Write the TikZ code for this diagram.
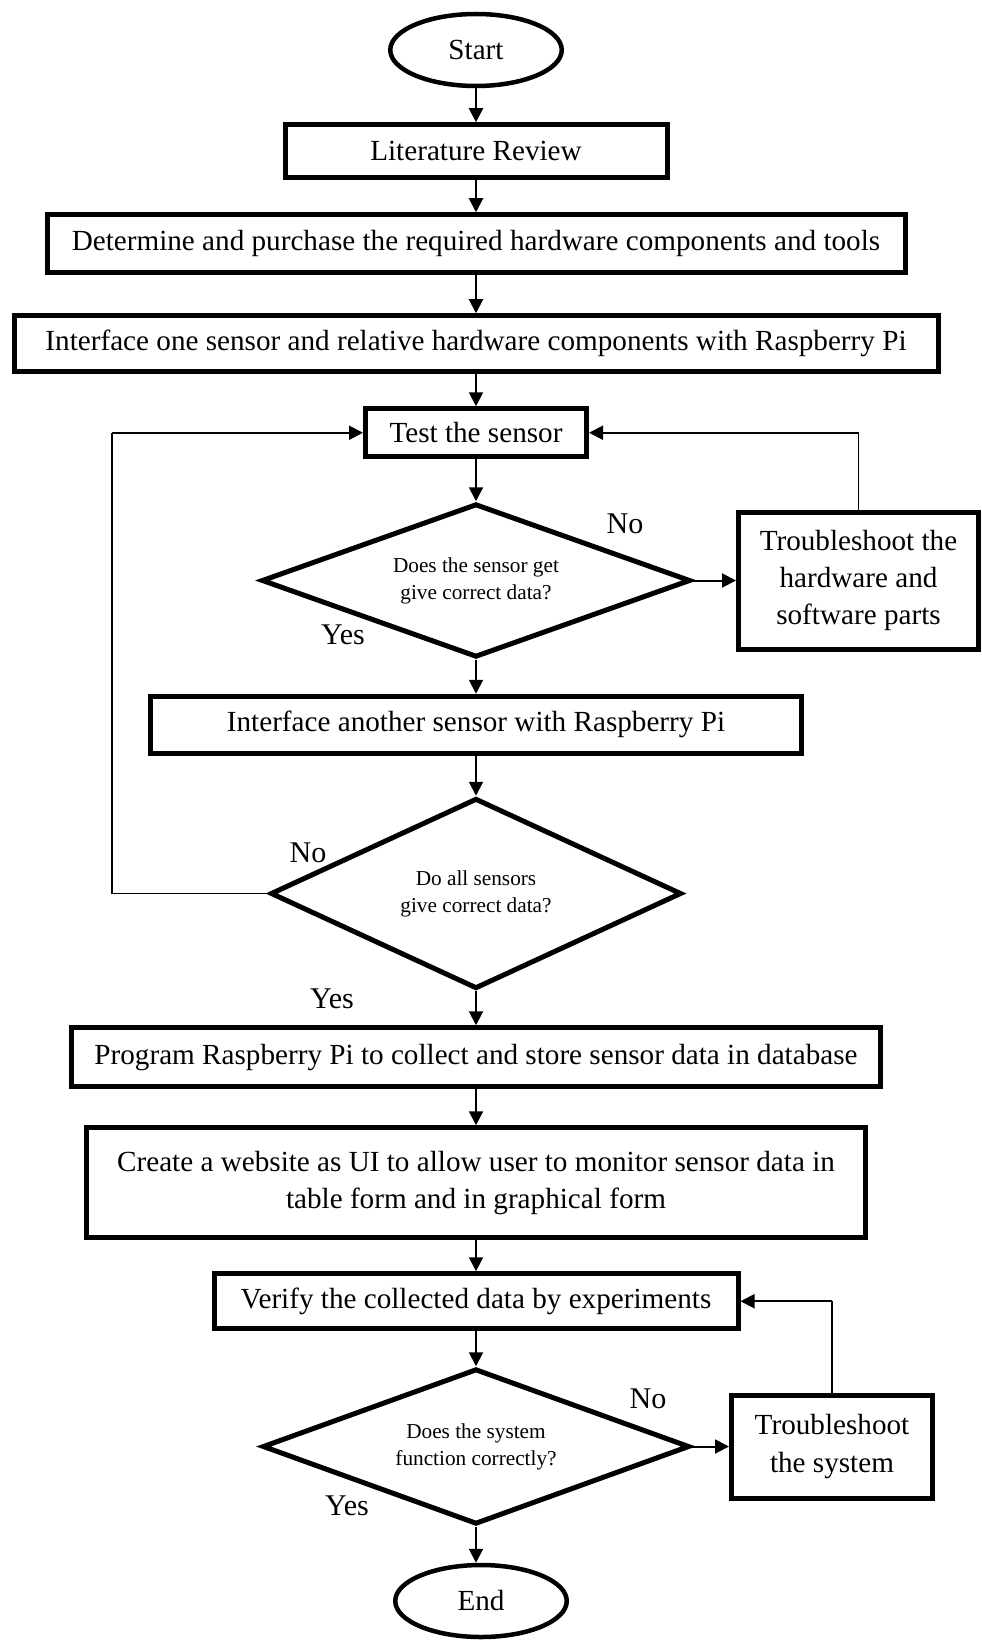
\documentclass[tikz,border=0pt]{standalone}
\usepackage{fontspec}
\setmainfont{Liberation Serif}
\usetikzlibrary{positioning,shapes.geometric,arrows.meta}

\tikzset{
  process/.style={draw, line width=0.1cm, inner sep=0pt, align=center,
    font=\fontsize{16.6}{21.3}\selectfont},
  decision/.style={draw, diamond, line width=0.1cm, inner sep=0pt, align=center,
    font=\fontsize{12.1}{15.4}\selectfont},
  terminal/.style={draw, ellipse, line width=0.09cm, inner sep=0pt,
    minimum width=3.43cm, minimum height=1.44cm, font=\fontsize{16.6}{20}\selectfont},
  flow/.style={-{Triangle[length=0.28cm,width=0.28cm]}, line width=0.04cm},
  feedback/.style={line width=0.7pt},
  lbl/.style={font=\fontsize{17.1}{20}\selectfont, inner sep=0pt},
}

\begin{document}
\begin{tikzpicture}

    \useasboundingbox (0,0) rectangle (19.64,-32.8);

    % Define nodes
    \node[terminal] (start) at (9.52,-1.0) {Start};
    \node[process, below=0.68cm of start, minimum width=7.64cm, minimum height=1.06cm]  (lit) {Literature Review};
    \node[process, below=0.64cm of lit, minimum width=17.16cm, minimum height=1.16cm]   (buy) {Determine and purchase the required hardware components and tools};
    \node[process, below=0.76cm of buy, minimum width=18.48cm, minimum height=1.12cm]   (one) {Interface one sensor and relative hardware components with Raspberry Pi};
    \node[process, below=0.64cm of one, minimum width=4.42cm, minimum height=0.96cm]    (test) {Test the sensor};
    \node[decision, below=0.84cm of test, aspect=2.75, minimum width=8.58cm, minimum height=3.07cm] (chk1) {Does the sensor get\\give correct data?};
    \node[process, right=0.86cm of chk1, minimum width=4.8cm, minimum height=2.74cm]   (fix1) {Troubleshoot the\\hardware and\\software parts};
    \node[process, below=0.68cm of chk1, minimum width=13.02cm, minimum height=1.14cm] (two) {Interface another sensor with Raspberry Pi};
    \node[decision, below=0.8cm of two, aspect=2.15, minimum width=8.22cm, minimum height=3.81cm]   (chk2) {Do all sensors\\give correct data?};
    \node[process, below=0.68cm of chk2, minimum width=16.18cm, minimum height=1.18cm] (prog) {Program Raspberry Pi to collect and store sensor data in database};
    \node[process, below=0.72cm of prog, minimum width=15.58cm, minimum height=2.2cm]  (web) {Create a website as UI to allow user to monitor sensor data in\\table form and in graphical form};
    \node[process, below=0.62cm of web, minimum width=10.48cm, minimum height=1.1cm]   (verify) {Verify the collected data by experiments};
    \node[decision, below=0.7cm of verify, aspect=2.7, minimum width=8.54cm, minimum height=3.11cm] (chk3) {Does the system\\function correctly?};
    \node[process, right=0.74cm of chk3, minimum width=4.02cm, minimum height=2.06cm]  (fix2) {Troubleshoot\\the system};
    \node[terminal, below=0.72cm of chk3, xshift=0.1cm] (end) {End};

    % Labels
    \node[lbl] (no1)  at ([xshift=2.98cm,yshift=1.13cm]chk1.center)   {No};
    \node[lbl] (yes1) at ([xshift=-2.66cm,yshift=-1.09cm]chk1.center) {Yes};
    \node[lbl] (no2)  at ([xshift=-3.36cm,yshift=0.82cm]chk2.center)  {No};
    \node[lbl] (yes2) at ([xshift=-2.88cm,yshift=-2.1cm]chk2.center)  {Yes};
    \node[lbl] (no3)  at ([xshift=3.44cm,yshift=0.95cm]chk3.center)   {No};
    \node[lbl] (yes3) at ([xshift=-2.58cm,yshift=-1.19cm]chk3.center) {Yes};

    \coordinate (loopL) at (2.24,-17.87);

    % Connect the nodes
    \draw[flow] (start) -- (lit);
    \draw[flow] (lit) -- (buy);
    \draw[flow] (buy) -- (one);
    \draw[flow] (one) -- (test);
    \draw[flow] (test) -- (chk1);
    \draw[flow] (chk1) -- (two);
    \draw[flow] (two) -- (chk2);
    \draw[flow] (chk2) -- (prog);
    \draw[flow] (prog) -- (web);
    \draw[flow] (web) -- (verify);
    \draw[flow] (verify) -- (chk3);
    \draw[flow] (chk3.south) -- (chk3.south |- end.north);

    \draw[flow] (chk1.east) -- (chk1.east -| fix1.west);
    \draw[flow] (chk3.east) -- (chk3.east -| fix2.west);

    % Loops back
    \draw[feedback] (fix1.north) -- (fix1.north |- test.east);
    \draw[flow] (fix1.north |- test.east) -- (test.east);
    \draw[feedback] (chk2.west) -- (chk2.west -| loopL) -- (loopL |- test.west);
    \draw[flow] (loopL |- test.west) -- (test.west);
    \draw[feedback] (fix2.north) -- (fix2.north |- verify.east);
    \draw[flow] (fix2.north |- verify.east) -- (verify.east);

\end{tikzpicture}
\end{document}
